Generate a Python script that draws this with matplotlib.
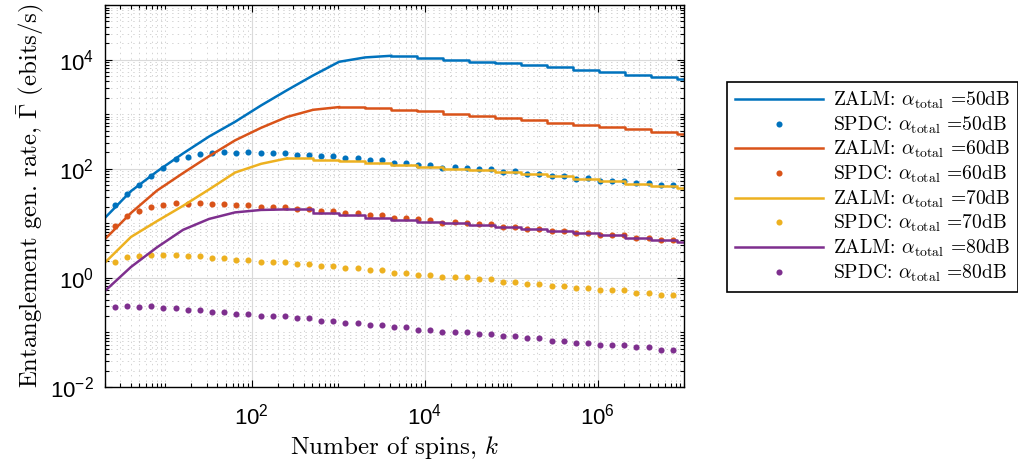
import os

os.environ.setdefault("MPLBACKEND", "Agg")

import matplotlib.pyplot as plt
import numpy as np
from matplotlib.ticker import FuncFormatter, LogLocator, NullFormatter

plt.rcParams["mathtext.fontset"] = "cm"
plt.rcParams["axes.unicode_minus"] = False

# ZALM curves are sampled at powers of two (last point closes the axis at 1e7)
k_zalm = [2, 4, 8, 16, 32, 64, 128, 256, 512, 1024, 2048, 4096, 8192, 16384,
          32768, 65536, 131072, 262144, 524288, 1048576, 2097152, 4194304,
          8388608, 1e7]
# SPDC markers: 47 log-spaced spin counts
k_spdc = np.logspace(0.417, 6.871, 47)

# log10 of the rate (ebits/s)
zalm_50 = [1.10, 1.59, 1.95, 2.28, 2.59, 2.86, 3.16, 3.44, 3.71, 3.96, 4.04, 4.07,
           4.03, 3.99, 3.965, 3.94, 3.90, 3.86, 3.81, 3.77, 3.72, 3.68, 3.65, 3.65]
zalm_60 = [0.71, 1.19, 1.60, 1.92, 2.23, 2.52, 2.75, 2.95, 3.08, 3.13, 3.12, 3.08,
           3.05, 3.01, 2.97, 2.935, 2.89, 2.845, 2.80, 2.76, 2.72, 2.68, 2.64, 2.64]
zalm_70 = [0.28, 0.75, 1.04, 1.32, 1.62, 1.93, 2.09, 2.19, 2.168, 2.137, 2.106, 2.077,
           2.035, 1.996, 1.985, 1.94, 1.905, 1.863, 1.82, 1.77, 1.72, 1.68, 1.65, 1.65]
zalm_80 = [-0.24, 0.20, 0.56, 0.88, 1.08, 1.20, 1.245, 1.255, 1.19, 1.151, 1.105, 1.065,
           1.02, 1.00, 0.965, 0.937, 0.90, 0.858, 0.816, 0.78, 0.736, 0.694, 0.657, 0.657]
# index where each ZALM curve turns into a staircase
zalm_stairs_from = [11, 9, 7, 7]

spdc_50 = [1.333, 1.53, 1.70, 1.87, 2.015, 2.174, 2.223, 2.278, 2.283, 2.30, 2.29, 2.30,
           2.28, 2.283, 2.289, 2.26, 2.259, 2.228, 2.228, 2.197, 2.197, 2.155, 2.155,
           2.106, 2.106, 2.064, 2.064, 2.015, 2.027, 2.015, 1.991, 1.988, 1.942, 1.954,
           1.905, 1.905, 1.863, 1.863, 1.821, 1.832, 1.772, 1.772, 1.775, 1.741, 1.741,
           1.699, 1.699]
spdc_60 = [0.95, 1.132, 1.224, 1.302, 1.328, 1.364, 1.357, 1.375, 1.346, 1.357, 1.328,
           1.328, 1.297, 1.297, 1.297, 1.262, 1.266, 1.224, 1.224, 1.182, 1.182, 1.151,
           1.151, 1.101, 1.101, 1.072, 1.059, 1.010, 1.023, 0.999, 0.992, 0.985, 0.937,
           0.937, 0.900, 0.900, 0.858, 0.858, 0.816, 0.816, 0.780, 0.780, 0.785, 0.736,
           0.736, 0.694, 0.694]
spdc_70 = [0.298, 0.389, 0.402, 0.426, 0.415, 0.426, 0.396, 0.396, 0.365, 0.365, 0.329,
           0.329, 0.292, 0.292, 0.292, 0.259, 0.259, 0.219, 0.219, 0.177, 0.177, 0.141,
           0.141, 0.097, 0.097, 0.055, 0.055, 0.018, 0.018, 0.018, -0.024, -0.024,
           -0.068, -0.068, -0.104, -0.104, -0.146, -0.146, -0.188, -0.188, -0.225,
           -0.225, -0.225, -0.268, -0.268, -0.311, -0.311]
spdc_80 = [-0.542, -0.517, -0.535, -0.524, -0.561, -0.553, -0.597, -0.590, -0.634,
           -0.634, -0.670, -0.670, -0.707, -0.707, -0.707, -0.743, -0.743, -0.785,
           -0.785, -0.827, -0.827, -0.864, -0.864, -0.908, -0.908, -0.950, -0.950,
           -0.986, -0.986, -0.986, -1.028, -1.028, -1.072, -1.072, -1.109, -1.109,
           -1.151, -1.151, -1.193, -1.193, -1.229, -1.229, -1.229, -1.273, -1.273,
           -1.315, -1.315]

losses = [50, 60, 70, 80]
colors = ["#0072BD", "#D95319", "#EDB120", "#7E2F8E"]

fig = plt.figure(figsize=(10.18, 4.66), dpi=100)
ax = fig.add_axes([0.1031, 0.1695, 0.5688, 0.8197])

handles = []
for zalm, spdc, start, db, c in zip([zalm_50, zalm_60, zalm_70, zalm_80],
                                    [spdc_50, spdc_60, spdc_70, spdc_80],
                                    zalm_stairs_from, losses, colors):
    rate = 10 ** np.array(zalm)
    (h1,) = ax.plot(k_zalm[:start + 1], rate[:start + 1], color=c, lw=1.8,
                    solid_joinstyle="round",
                    label=r"ZALM: $\alpha_{\rm total}$ =%ddB" % db)
    ax.plot(k_zalm[start:], rate[start:], color=c, lw=1.8, drawstyle="steps-post")
    (h2,) = ax.plot(k_spdc, 10 ** np.array(spdc), ls="none", marker="o", ms=4.4,
                    color=c, mec="none",
                    label=r"SPDC: $\alpha_{\rm total}$ =%ddB" % db)
    handles += [h1, h2]

ax.set_xscale("log")
ax.set_yscale("log")
ax.set_xlim(2, 1e7)
ax.set_ylim(1e-2, 1e5)

fmt = FuncFormatter(lambda v, _: r"$\mathdefault{10^{%d}}$" % round(np.log10(v)))
for axis in (ax.xaxis, ax.yaxis):
    axis.set_major_locator(LogLocator(base=100, numticks=20))
    axis.set_minor_locator(LogLocator(base=10, subs=np.arange(1, 10), numticks=50))
    axis.set_major_formatter(fmt)
    axis.set_minor_formatter(NullFormatter())

ax.tick_params(which="both", direction="in", top=True, right=True, width=0.8,
               labelsize=16, labelfontfamily="Liberation Sans")
ax.tick_params(which="major", length=5)
ax.tick_params(which="minor", length=3)
ax.tick_params(axis="y", pad=8)
ax.tick_params(axis="x", pad=12)
for s in ax.spines.values():
    s.set_linewidth(1.0)

ax.grid(which="major", color="#dadada", lw=0.8, ls="-")
ax.grid(which="minor", color="#c2c2c2", lw=0.5, ls=(0, (2, 6)))
ax.set_axisbelow(True)

ax.set_xlabel(r"Number of spins, $k$", fontsize=18, family="cmr10", labelpad=3)
ax.set_ylabel(r"Entanglement gen. rate, $\bar{\Gamma}$ (ebits/s)", fontsize=17.8,
              family="cmr10", labelpad=2)

leg = fig.legend(handles=handles, loc="upper left", bbox_to_anchor=(0.714, 0.824),
                 prop={"family": "cmr10", "size": 14.1}, numpoints=1, handlelength=4.5,
                 handletextpad=0.5, labelspacing=0.17, borderpad=0.4, borderaxespad=0,
                 fancybox=False, framealpha=1, edgecolor="black")
leg.get_frame().set_linewidth(1.2)

fig.savefig("out.png", dpi=100)
